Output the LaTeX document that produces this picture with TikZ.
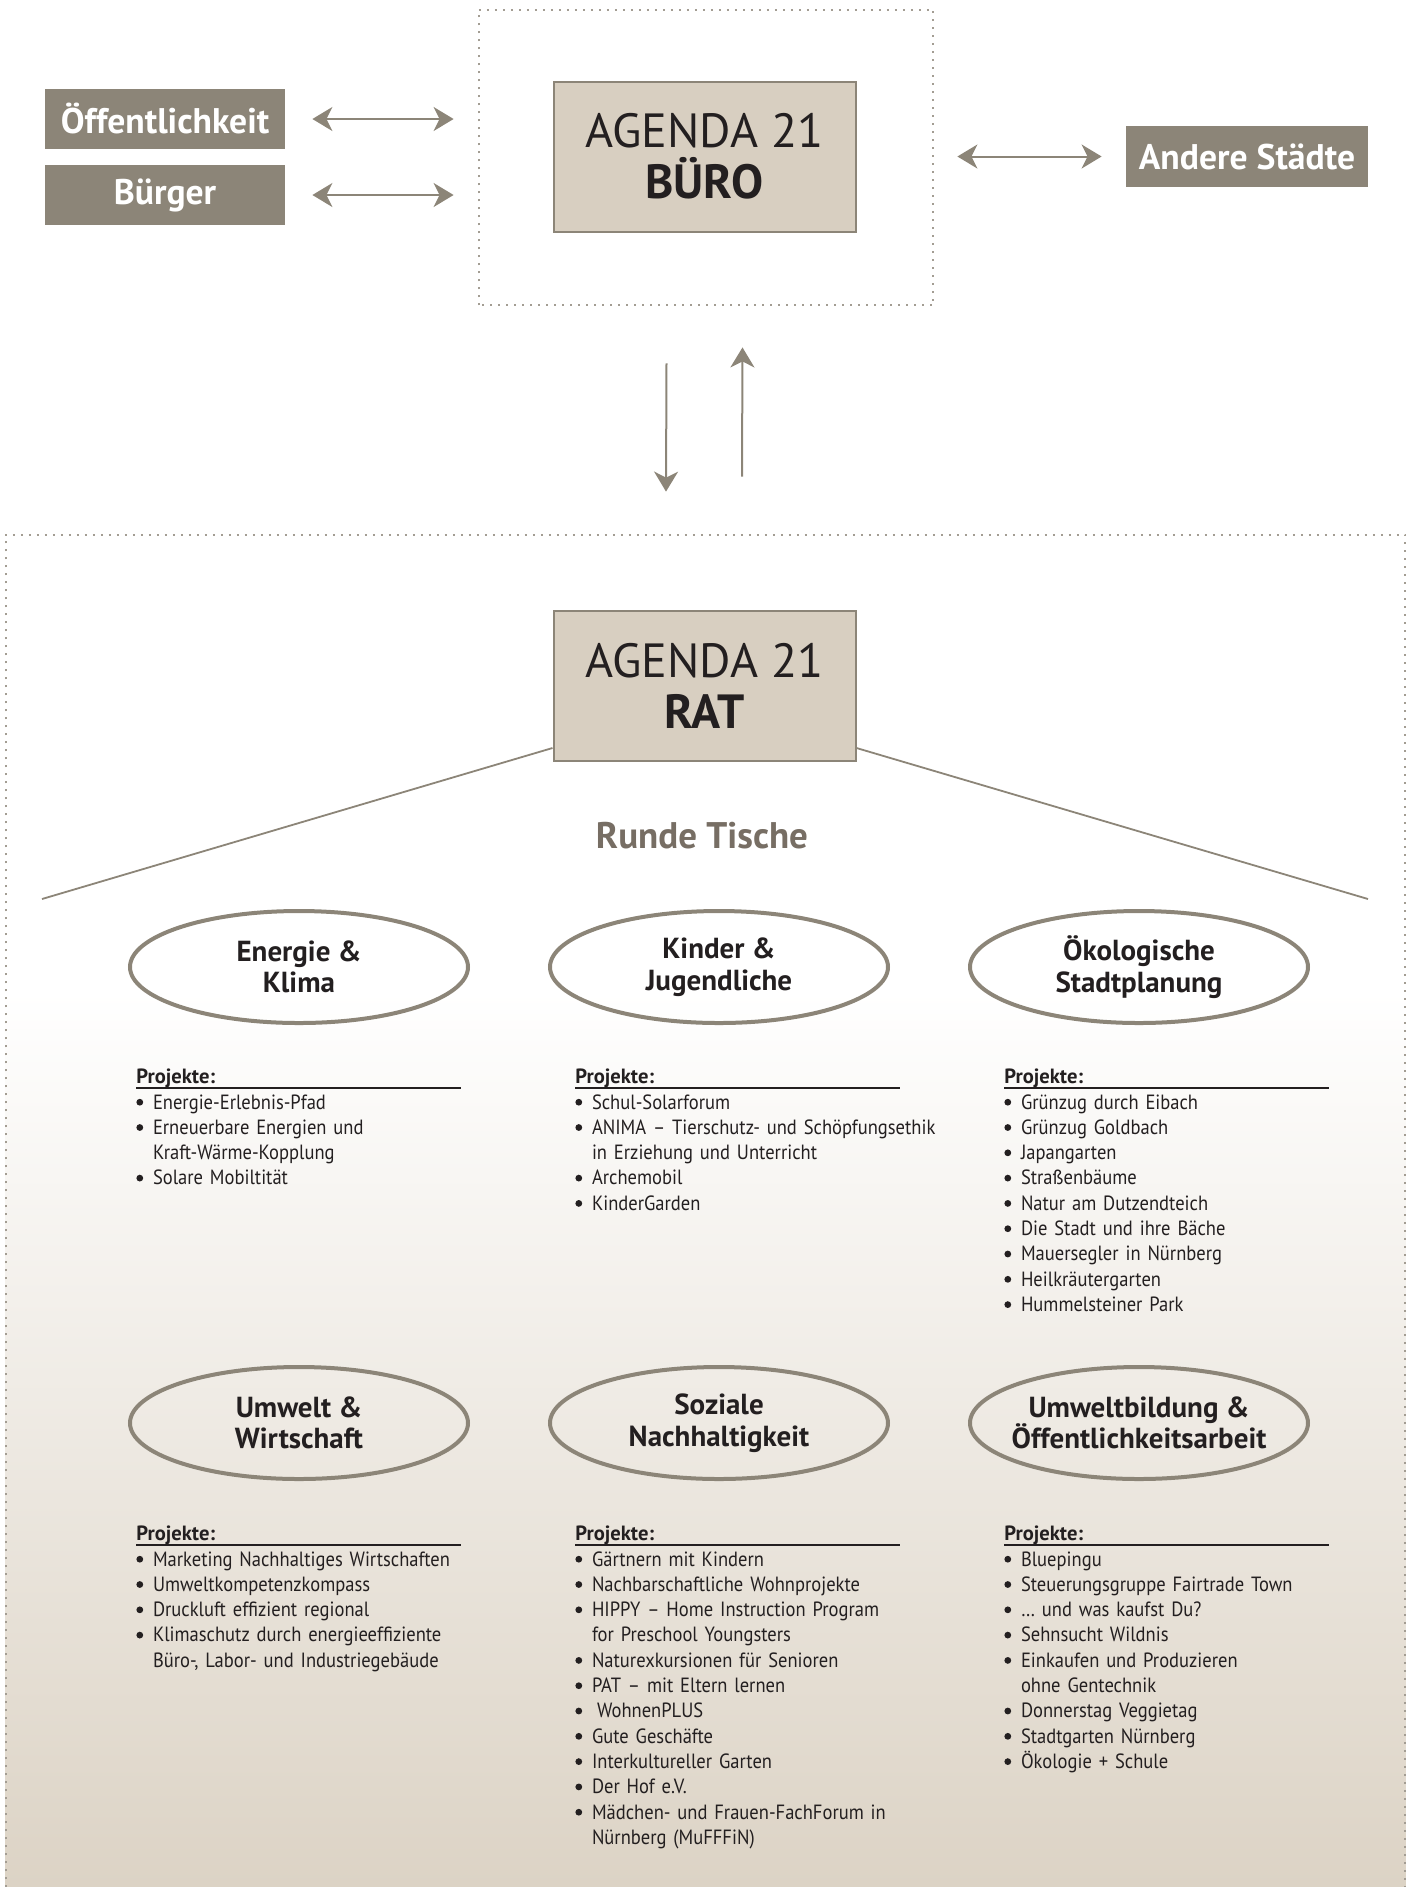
\documentclass[tikz,border=0pt]{standalone}
\usepackage{fontspec}
\setmainfont{PT Sans}
\newfontfamily\listfont[FakeStretch=0.9]{PT Sans}
\usetikzlibrary{arrows.meta}
\usetikzlibrary{shapes.geometric}

\definecolor{agdark}{HTML}{8C8578}
\definecolor{aglight}{HTML}{D8CFC1}
\definecolor{agtext}{HTML}{231F20}
\definecolor{agrunde}{HTML}{776E64}
\definecolor{agbottom}{HTML}{DCD3C5}

\newcommand{\bul}{\makebox[8.3pt][l]{\tikz[baseline=-3.4pt]\fill[agtext] (1.7pt,0pt) circle (1.7pt);}}
\newcommand{\gap}{\hspace*{8.3pt}}

\begin{document}
\begin{tikzpicture}[x=0.5pt, y=-0.5pt,
		darkbox/.style={fill=agdark, text=white, font=\fontsize{17.8}{20}\selectfont\bfseries, minimum width=120pt, minimum height=30pt, inner sep=0pt},
		agendabox/.style={fill=aglight, draw=agdark, line width=1pt, minimum width=151pt, minimum height=75pt, align=center, text=agtext, font=\fontsize{24}{25.5}\selectfont},
		frame/.style={draw=agdark!80, line width=1pt, dash pattern=on 1pt off 3pt},
		biarrow/.style={draw=agdark, line width=1pt, {Stealth[length=10pt,width=12pt,inset=3pt]}-{Stealth[length=10pt,width=12pt,inset=3pt]}},
		onearrow/.style={draw=agdark, line width=1pt, -{Stealth[length=10pt,width=12pt,inset=3pt]}},
		tisch/.style={ellipse, draw=agdark, line width=2pt, minimum width=169pt, minimum height=56pt, inner xsep=-6pt, inner ysep=0pt, align=center, text=agtext, font=\fontsize{14.5}{15.8}\selectfont\bfseries},
		projhead/.style={anchor=base west, inner sep=0pt, text=agtext, font=\fontsize{10.3}{12}\selectfont\bfseries},
		projline/.style={draw=agtext, line width=0.6pt},
		projlist/.style={anchor=base west, inner sep=0pt, text width=200pt, align=left, text=agtext, font=\listfont\fontsize{10.3}{12.65}\selectfont}]
	\useasboundingbox (0,0) rectangle (1411,1887);

	% Buero oben
	\node [minimum width=227pt, minimum height=147.5pt, inner sep=0pt] (bueroframe) at (706,157.5) {};
	\draw [frame] (bueroframe.south west) rectangle (bueroframe.north east);
	\node [agendabox] (buero) at (704.5,156.5) {AGENDA 21\\\textbf{BÜRO}};
	\node [darkbox] (oeff) at (165,119) {Öffentlichkeit};
	\node [darkbox] (buerger) at (165,195) {Bürger};
	\node [darkbox, minimum width=121pt, minimum height=30.5pt] (andere) at (1247,156.5) {Andere Städte};
	\draw [biarrow] ([xshift=13.5pt]oeff.east) -- ([xshift=-12.5pt]oeff.east -| bueroframe.west);
	\draw [biarrow] ([xshift=13.5pt]buerger.east) -- ([xshift=-12.5pt]buerger.east -| bueroframe.west);
	\draw [biarrow] ([xshift=12pt]andere.west -| bueroframe.east) -- ([xshift=-12pt]andere.west);

	% Rat unten
	\node [minimum width=699.5pt, minimum height=676pt, inner sep=0pt] (ratframe) at (705.5,1211) {};
	\fill [top color=white, bottom color=agbottom] (ratframe.west |- 0,990) rectangle (ratframe.south east);
	\draw [frame] (ratframe.south west) -- (ratframe.north west) -- (ratframe.north east) -- (ratframe.south east);
	\draw [onearrow] ([xshift=-19.75pt,yshift=-29pt]bueroframe.south) -- ([xshift=-19.75pt,yshift=21.5pt]ratframe.north);
	\draw [onearrow] ([xshift=18.25pt,yshift=29pt]ratframe.north) -- ([xshift=18.25pt,yshift=-21pt]bueroframe.south);

	\node [agendabox] (rat) at (704.5,686) {AGENDA 21\\\textbf{RAT}};
	\coordinate (tischL) at (42,899);
	\coordinate (tischR) at (1368,899);
	\draw [draw=agdark, line width=0.9pt] ([yshift=-31pt]rat.west) -- (tischL);
	\draw [draw=agdark, line width=0.9pt] ([yshift=-31pt]rat.east) -- (tischR);
	\node [text=agrunde, font=\fontsize{18.5}{20}\selectfont\bfseries] (runde) at (702,836) {Runde Tische};

	% Runde Tische
	\node [tisch] (energie) at (299,967) {Energie \&\\Klima};
	\node [tisch] (kinder) at (719,967) {Kinder \&\\Jugendliche};
	\node [tisch] (oeko) at (1139,967) {Ökologische\\Stadtplanung};
	\node [tisch] (umwelt) at (299,1423) {Umwelt \&\\Wirtschaft};
	\node [tisch] (sozial) at (719,1423) {Soziale\\Nachhaltigkeit};
	\node [tisch] (bildung) at (1139,1423) {Umweltbildung \&\\Öffentlichkeitsarbeit};

	% Projekte
	\node [projhead] (projEnergie) at (136,1083) {Projekte:};
	\draw [projline] ([yshift=-2.5pt]projEnergie.base west) -- ++(325,0);
	\node [projlist] (listEnergie) at (136,1109) {\bul Energie-Erlebnis-Pfad\\\bul Erneuerbare Energien und\\\gap Kraft-Wärme-Kopplung\\\bul Solare Mobiltität};

	\node [projhead] (projKinder) at (575,1083) {Projekte:};
	\draw [projline] ([yshift=-2.5pt]projKinder.base west) -- ++(325,0);
	\node [projlist] (listKinder) at (575,1109) {\bul Schul-Solarforum\\\bul ANIMA – Tierschutz- und Schöpfungsethik\\\gap in Erziehung und Unterricht\\\bul Archemobil\\\bul KinderGarden};

	\node [projhead] (projOeko) at (1004,1083) {Projekte:};
	\draw [projline] ([yshift=-2.5pt]projOeko.base west) -- ++(325,0);
	\node [projlist] (listOeko) at (1004,1109) {\bul Grünzug durch Eibach\\\bul Grünzug Goldbach\\\bul Japangarten\\\bul Straßenbäume\\\bul Natur am Dutzendteich\\\bul Die Stadt und ihre Bäche\\\bul Mauersegler in Nürnberg\\\bul Heilkräutergarten\\\bul Hummelsteiner Park};

	\node [projhead] (projUmwelt) at (136,1540) {Projekte:};
	\draw [projline] ([yshift=-2.5pt]projUmwelt.base west) -- ++(325,0);
	\node [projlist] (listUmwelt) at (136,1566) {\bul Marketing Nachhaltiges Wirtschaften\\\bul Umweltkompetenzkompass\\\bul Druckluft effizient regional\\\bul Klimaschutz durch energieeffiziente\\\gap Büro-, Labor- und Industriegebäude};

	\node [projhead] (projSozial) at (575,1540) {Projekte:};
	\draw [projline] ([yshift=-2.5pt]projSozial.base west) -- ++(325,0);
	\node [projlist] (listSozial) at (575,1566) {\bul Gärtnern mit Kindern\\\bul Nachbarschaftliche Wohnprojekte\\\bul HIPPY – Home Instruction Program\\\gap for Preschool Youngsters\\\bul Naturexkursionen für Senioren\\\bul PAT – mit Eltern lernen\\\bul\hspace{2.5pt}WohnenPLUS\\\bul Gute Geschäfte\\\bul Interkultureller Garten\\\bul Der Hof e.V.\\\bul Mädchen- und Frauen-FachForum in\\\gap Nürnberg (MuFFFiN)};

	\node [projhead] (projBildung) at (1004,1540) {Projekte:};
	\draw [projline] ([yshift=-2.5pt]projBildung.base west) -- ++(325,0);
	\node [projlist] (listBildung) at (1004,1566) {\bul Bluepingu\\\bul Steuerungsgruppe Fairtrade Town\\\bul … und was kaufst Du?\\\bul Sehnsucht Wildnis\\\bul Einkaufen und Produzieren\\\gap ohne Gentechnik\\\bul Donnerstag Veggietag\\\bul Stadtgarten Nürnberg\\\bul Ökologie + Schule};
\end{tikzpicture}
\end{document}
